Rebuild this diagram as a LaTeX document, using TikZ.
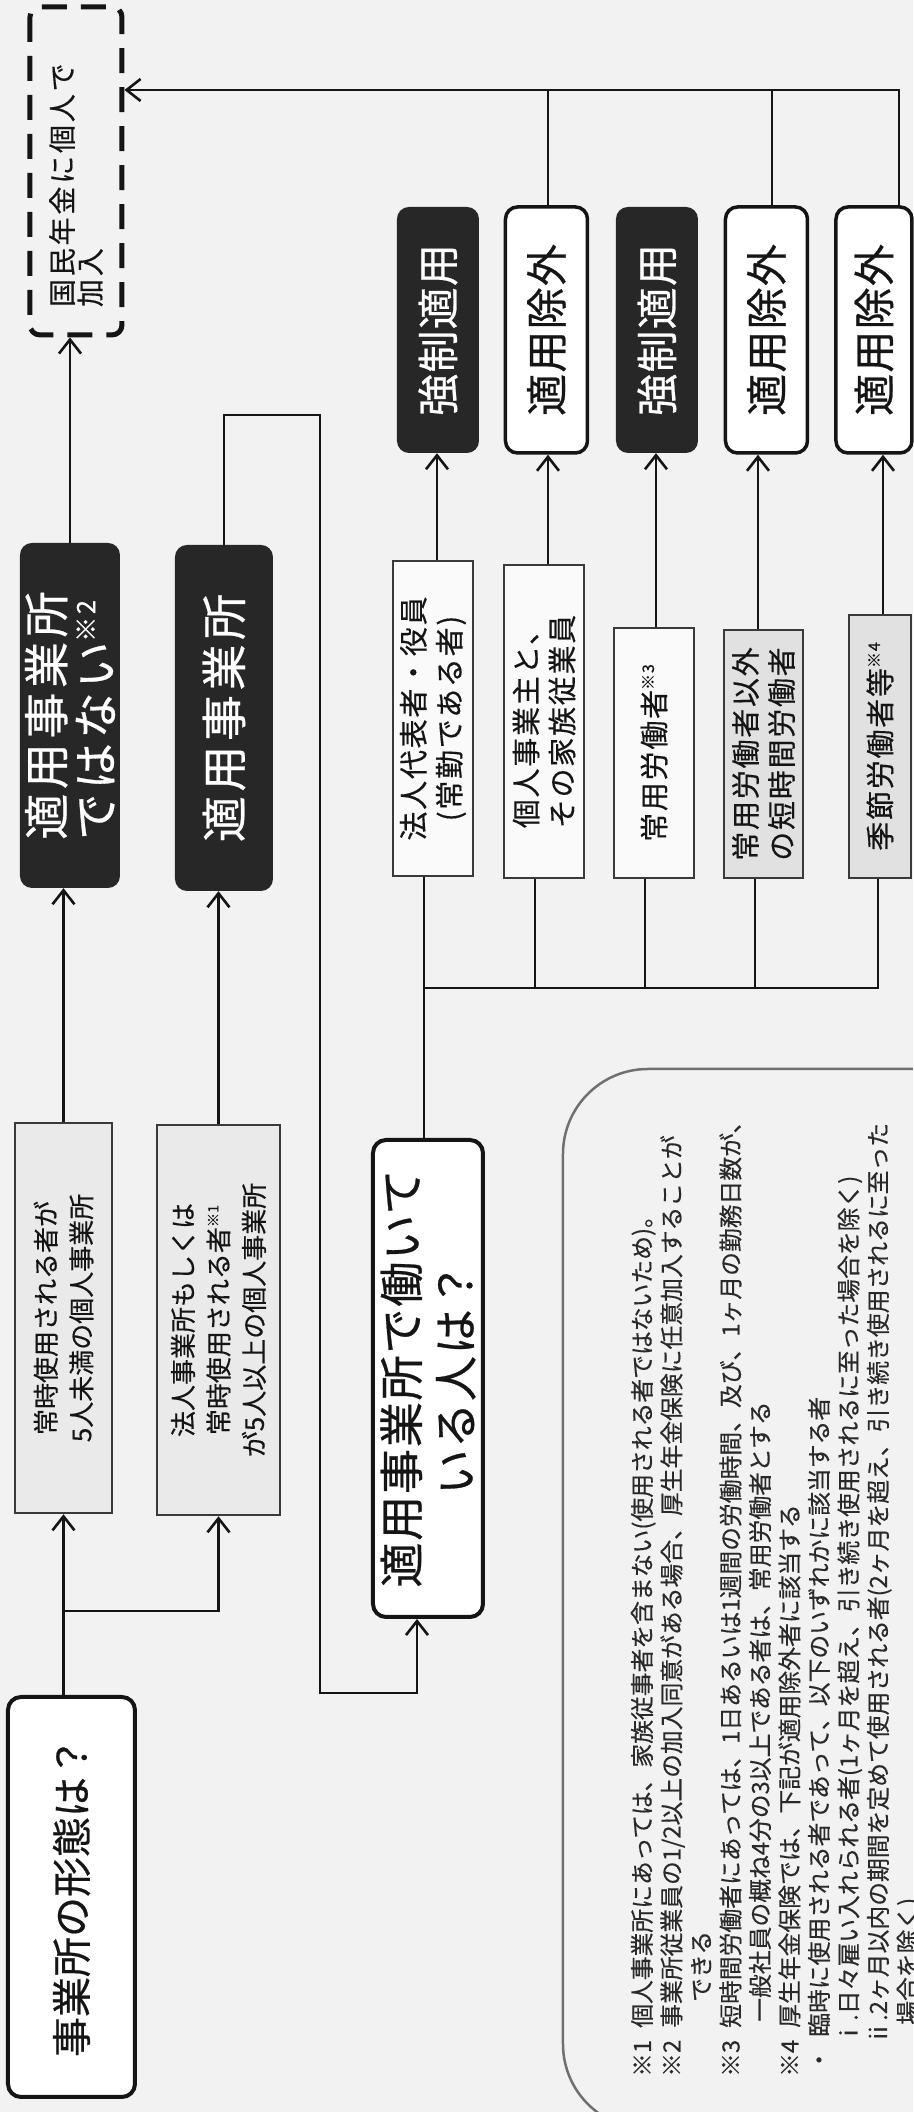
\documentclass[tikz,border=0pt]{standalone}
\usepackage{fontspec}
\setmainfont{Noto Sans CJK JP}
\usetikzlibrary{arrows.meta,calc}
\definecolor{bgc}{HTML}{F2F2F2}
\definecolor{ink}{HTML}{151515}
\definecolor{darkbox}{HTML}{272727}
\definecolor{thinb}{HTML}{3A3A3A}
\definecolor{afill}{HTML}{EAEAEA}
\definecolor{pfill}{HTML}{FAFAFA}
\definecolor{gfill}{HTML}{E1E1E1}
\definecolor{notec}{HTML}{2A2A2A}
\definecolor{notebd}{HTML}{707070}
\newcommand\kome[1]{\raisebox{.38em}{\scalebox{.55}{#1}}}
\newcommand\fQ{\fontsize{40pt}{48pt}\selectfont\addfontfeature{FakeBold=0.6}}
\newcommand\fQb{\fontsize{45pt}{54pt}\selectfont\addfontfeature{LetterSpace=4,FakeBold=0.6}}
\newcommand\fA{\fontsize{26pt}{35.5pt}\selectfont\addfontfeature{FakeBold=0.4}}
\newcommand\fB{\fontsize{46pt}{49pt}\selectfont\addfontfeature{LetterSpace=10,FakeBold=0.6}}
\newcommand\fN{\fontsize{28pt}{28pt}\selectfont\addfontfeature{LetterSpace=10,FakeBold=0.4}}
\newcommand\fR{\fontsize{42pt}{48pt}\selectfont\addfontfeature{LetterSpace=3,FakeBold=0.6}}
\newcommand\fP{\fontsize{29pt}{36pt}\selectfont\addfontfeature{LetterSpace=6,FakeBold=0.4}}
\newcommand\fNote{\fontsize{23.8pt}{29.5pt}\selectfont\addfontfeature{FakeBold=0.3}}
\begin{document}
\begin{tikzpicture}[x=1pt,y=1pt,rotate=90,transform shape,
  conn/.style={line width=2.6pt, draw=ink},
  arr/.style={conn, -{Straight Barb[length=14pt,width=22pt]}},
  qbox/.style={draw=ink, line width=4pt, rounded corners=13pt, fill=white, inner sep=0pt, align=center, text=ink},
  sbox/.style={draw=thinb, line width=2.5pt, inner sep=0pt, align=center, text=ink},
  dbox/.style={fill=darkbox, rounded corners=12pt, text=white, inner sep=0pt, align=center, minimum width=246pt, minimum height=82pt},
  wbox/.style={draw=ink, line width=3.5pt, rounded corners=12pt, fill=white, inner sep=0pt, text=ink, minimum width=246pt, minimum height=82pt},
  nbox/.style={draw=ink, line width=5pt, dash pattern=on 25pt off 14pt, rounded corners=10pt, inner ysep=0pt, inner xsep=28pt, text=ink},
  note/.style={anchor=base west, inner sep=0pt, font=\fNote, text=notec}]
\useasboundingbox (0,0) rectangle (2112,913);
\fill[bgc] (0,0) rectangle (2112,913);

% notes frame
\begin{scope}
\clip (0,0) rectangle (2112,913);
\draw[notebd, line width=2.5pt, rounded corners=85pt] (-17,-200) rectangle (1043,350);
\end{scope}

% main nodes
\node[qbox, minimum width=400pt, minimum height=127pt, font=\fQ] (Q1) at (215,841.5) {事業所の形態は？};
\node[sbox, fill=afill, minimum width=390pt, minimum height=97pt, font=\fA] (A1) at (794,849.5) {常時使用される者が\\5人未満の個人事業所};
\node[sbox, fill=afill, minimum width=390pt, minimum height=123pt, font=\fA] (A2) at (792,694.5) {法人事業所もしくは\\常時使用される者\kome{※1}\\が5人以上の個人事業所};
\node[dbox, minimum width=345pt, minimum height=100pt, font=\fB, align=left] (B1) at (1396.5,843) {適用事業所\\ではない\kome{※2}};
\node[dbox, minimum width=346pt, minimum height=98pt, font=\fB] (B2) at (1394,689) {適用事業所};
\node[nbox, minimum height=92pt, text width=272pt, font=\fN, align=left] (N) at (1941,837) {国民年金に個人で\\加入};
\node[qbox, minimum width=477pt, minimum height=110pt, font=\fQb] (Q2) at (733.5,485) {適用事業所で働いて\\いる人は？};

% person boxes
\node[sbox, fill=pfill, minimum width=315pt, minimum height=80pt, font=\fP] (P1) at (1393.5,480) {法人代表者・役員\\(常勤である者)};
\node[sbox, fill=pfill, minimum width=313pt, minimum height=80pt, font=\fP, align=left] (P2) at (1390.5,369) {個人事業主と、\\その家族従業員};
\node[sbox, fill=pfill, minimum width=250pt, minimum height=80pt, font=\fP] (P3) at (1359,259) {常用労働者\kome{※3}};
\node[sbox, fill=gfill, minimum width=248pt, minimum height=79pt, font=\fP, align=left] (P4) at (1358,149.5) {常用労働者以外\\の短時間労働者};
\node[sbox, fill=gfill, minimum width=263pt, minimum height=62pt, font=\fP] (P5) at (1365.5,33) {季節労働者等\kome{※4}};

% result boxes
\node[dbox, font=\fR] (R1) at (1782,475) {強制適用};
\node[wbox, font=\fR] (R2) at (1782,366.5) {適用除外};
\node[dbox, font=\fR] (R3) at (1782,256) {強制適用};
\node[wbox, font=\fR] (R4) at (1782,146.5) {適用除外};
\node[wbox, font=\fR, minimum height=76pt] (R5) at (1782,39) {適用除外};

% connectors: establishment type
\draw[arr] (Q1.east |- A1.west) -- (A1.west);
\coordinate (br1) at ($(Q1.east |- A1.west)+(84,0)$);
\draw[arr] (br1) |- (A2.west);
\draw[arr] (A1.east) -- (A1.east -| B1.west);
\draw[arr] (A2.east) -- (A2.east -| B2.west);
\draw[arr] (B1.east) -- (B1.east -| N.west);
\coordinate (c1) at (1697,593);
\coordinate (c2) at (419,593);
\coordinate (q2in) at ($(Q2.west)+(0,11)$);
\draw[arr] (B2.east) -| (c1) -- (c2) |- (q2in);

% connectors: persons
\coordinate (bt) at (1124,489);
\coordinate (bb) at (1124,35);
\draw[conn] (Q2.east |- bt) -- (P1.west |- bt);
\draw[conn] (bt) -- (bb) -- (P5.west |- bb);
\foreach \n/\yy in {P2/378,P3/268,P4/158}{
  \coordinate (t) at (1124,\yy);
  \draw[conn] (t) -- (\n.west |- t);
}
\foreach \a/\b/\yy in {P1/R1/476,P2/R2/365,P3/R3/257,P4/R4/155,P5/R5/30}{
  \coordinate (t) at (0,\yy);
  \draw[arr] (\a.east |- t) -- (\b.west |- t);
}

% connectors: results to national pension
\coordinate (rt) at (2022,14);
\draw[arr] (R5.east |- rt) -- (rt) -- (rt |- N.south);
\foreach \n/\yy in {R2/365,R4/141}{
  \coordinate (t) at (2022,\yy);
  \draw[conn] (\n.east |- t) -- (t);
}

% notes
\node[note] (k1) at (35,262) {※1};
\node[note] (t1) at (84,262) {個人事業所にあっては、家族従事者を含まない(使用される者ではないため)。};
\node[note] (k2) at (35,232.5) {※2};
\node[note] (t2) at (84,232.5) {事業所従業員の1/2以上の加入同意がある場合、厚生年金保険に任意加入することが};
\node[note] (t2b) at (110,203) {できる};
\node[note] (k3) at (35,173.5) {※3};
\node[note] (t3) at (84,173.5) {短時間労働者にあっては、1日あるいは1週間の労働時間、及び、1ヶ月の勤務日数が、};
\node[note] (t3b) at (90,144) {一般社員の概ね4分の3以上である者は、常用労働者とする};
\node[note] (k4) at (35,114.5) {※4};
\node[note] (t4) at (84,114.5) {厚生年金保険では、下記が適用除外者に該当する};
\node[note] (k5) at (40,85) {・};
\node[note] (t5) at (75,85) {臨時に使用される者であって、以下のいずれかに該当する者};
\node[note] (k6) at (67,55.5) {ⅰ};
\node[note] (t6) at (91,55.5) {.日々雇い入れられる者(1ヶ月を超え、引き続き使用されるに至った場合を除く)};
\node[note] (k7) at (67,26) {ⅱ};
\node[note] (t7) at (91,26) {.2ヶ月以内の期間を定めて使用される者(2ヶ月を超え、引き続き使用されるに至った};
\node[note] (t7b) at (87,-3.5) {場合を除く)};
\end{tikzpicture}
\end{document}
